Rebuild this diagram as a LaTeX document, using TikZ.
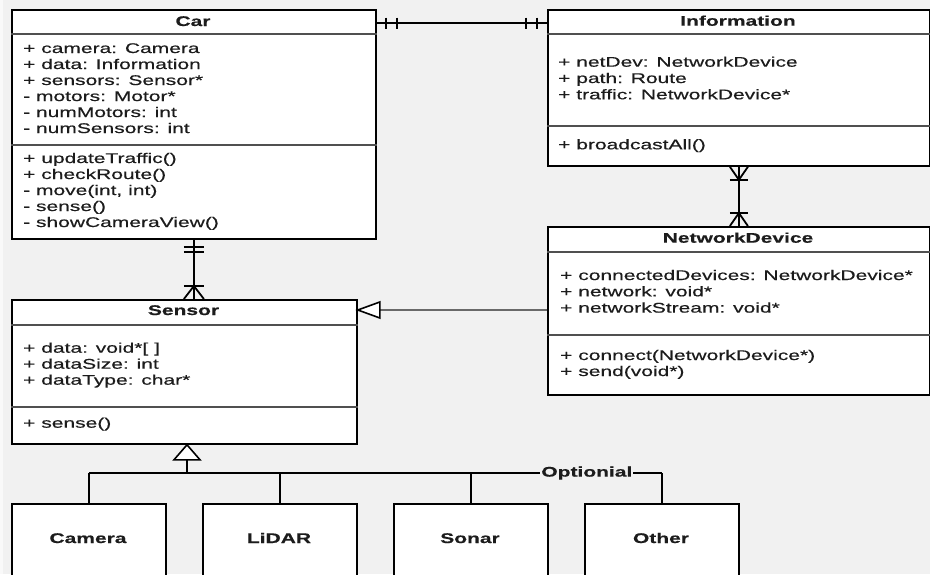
\documentclass[tikz,border=0pt]{standalone}
\usepackage{fontspec}
\setmainfont{Liberation Sans}[FakeStretch=1.5,FakeBold=0.4]
\usetikzlibrary{calc}
\definecolor{bg}{RGB}{241,241,241}
\definecolor{ink}{RGB}{28,28,28}
\definecolor{rule}{RGB}{80,80,80}
\definecolor{genline}{RGB}{105,105,105}

\begin{document}
\begin{tikzpicture}[x=1pt,y=-1pt,
  classbox/.style={draw=black, line width=1.8pt, fill=white, rectangle,
                   inner sep=0pt, anchor=north west},
  member/.style={anchor=base west, inner sep=0pt, text=ink,
                 font=\fontsize{14}{16}\selectfont},
  title/.style={anchor=base, inner sep=0pt, text=ink,
                font=\fontsize{14}{16}\selectfont\bfseries},
  sepline/.style={draw=rule, line width=1.5pt},
  conn/.style={draw=black, line width=1.8pt},
  hollow/.style={draw=black, line width=1.6pt, fill=white, line join=miter}]

\useasboundingbox (0,0) rectangle (930,574);
\clip (0,0) rectangle (930,574);
\fill[bg] (0,0) rectangle (930,574);
\fill[white!60!bg] (0,0) rectangle (3,574);

% ---------- class boxes ----------
\node[classbox, minimum width=364pt, minimum height=229pt] (car)    at (11,9)   {};
\node[classbox, minimum width=382pt, minimum height=156pt] (info)   at (547,9)  {};
\node[classbox, minimum width=382pt, minimum height=168pt] (netdev) at (547,226) {};
\node[classbox, minimum width=345pt, minimum height=144pt] (sensor) at (11,299) {};

% compartment rules
\draw[sepline] ($(car.north west)+(0,25)$)    -- ($(car.north east)+(0,25)$);
\draw[sepline] ($(car.north west)+(0,136)$)   -- ($(car.north east)+(0,136)$);
\draw[sepline] ($(info.north west)+(0,25)$)   -- ($(info.north east)+(0,25)$);
\draw[sepline] ($(info.north west)+(0,117)$)  -- ($(info.north east)+(0,117)$);
\draw[sepline] ($(netdev.north west)+(0,26)$) -- ($(netdev.north east)+(0,26)$);
\draw[sepline] ($(netdev.north west)+(0,109)$)-- ($(netdev.north east)+(0,109)$);
\draw[sepline] ($(sensor.north west)+(0,26)$) -- ($(sensor.north east)+(0,26)$);
\draw[sepline] ($(sensor.north west)+(0,108)$)-- ($(sensor.north east)+(0,108)$);

% titles
\node[title] (car-t)    at (193,26)    {Car};
\node[title] (info-t)   at (738,25.7)  {Information};
\node[title] (netdev-t) at (738,242.7) {NetworkDevice};
\node[title] (sensor-t) at (183.5,315) {Sensor};

% members of Car
\foreach \t [count=\i from 0] in {{+ camera: Camera},{+ data: Information},
    {+ sensors: Sensor*},{- motors: Motor*},{- numMotors: int},{- numSensors: int}}
  \node[member] (car-a\i) at (23,{53+16*\i}) {\t};
\foreach \t [count=\i from 0] in {{+ updateTraffic()},{+ checkRoute()},
    {- move(int, int)},{- sense()},{- showCameraView()}}
  \node[member] (car-m\i) at (23,{163+16*\i}) {\t};

% members of Information
\foreach \t [count=\i from 0] in {{+ netDev: NetworkDevice},{+ path: Route},
    {+ traffic: NetworkDevice*}}
  \node[member] (info-a\i) at (558,{66.7+16.3*\i}) {\t};
\node[member] (info-m0) at (558,149.3) {+ broadcastAll()};

% members of NetworkDevice
\foreach \t [count=\i from 0] in {{+ connectedDevices: NetworkDevice*},
    {+ network: void*},{+ networkStream: void*}}
  \node[member] (netdev-a\i) at (560,{280+16.3*\i}) {\t};
\foreach \t [count=\i from 0] in {{+ connect(NetworkDevice*)},{+ send(void*)}}
  \node[member] (netdev-m\i) at (560,{360+16*\i}) {\t};

% members of Sensor
\foreach \t [count=\i from 0] in {{+ data: void*[ ]},{+ dataSize: int},
    {+ dataType: char*}}
  \node[member] (sensor-a\i) at (23,{352.7+16*\i}) {\t};
\node[member] (sensor-m0) at (23,427.7) {+ sense()};

% ---------- sensor kinds ----------
\node[classbox, minimum width=154pt, minimum height=100pt] (camera) at (11,503)  {};
\node[classbox, minimum width=154pt, minimum height=100pt] (lidar)  at (202,503) {};
\node[classbox, minimum width=154pt, minimum height=100pt] (sonar)  at (393,503) {};
\node[classbox, minimum width=154pt, minimum height=100pt] (other)  at (584,503) {};
\node[title] (camera-t) at (88,543)  {Camera};
\node[title] (lidar-t)  at (279,543) {LiDAR};
\node[title] (sonar-t)  at (470,543) {Sonar};
\node[title] (other-t)  at (661,543) {Other};

% ---------- Car -- Information : one and only one on both ends ----------
\coordinate (ci-a) at ($(car.north east)+(0,14)$);
\coordinate (ci-b) at ($(info.north west)+(0,14)$);
\draw[conn] (ci-a) -- (ci-b);
\foreach \x in {9,20}   \draw[conn] ($(ci-a)+(\x,-5.5)$) -- ++(0,11);
\foreach \x in {-10,-21}\draw[conn] ($(ci-b)+(\x,-5.5)$) -- ++(0,11);

% ---------- Information -- NetworkDevice : one or many on both ends ----------
\coordinate (in-a) at (info.south);
\coordinate (in-b) at (netdev.north);
\draw[conn] (in-a) -- (in-b);
\draw[conn] ($(in-a)+(-9,0)$) -- ($(in-a)+(0,13)$) -- ($(in-a)+(9,0)$);
\draw[conn] ($(in-a)+(-9,13)$) -- ++(18,0);
\draw[conn] ($(in-b)+(-9,0)$) -- ($(in-b)+(0,-13)$) -- ($(in-b)+(9,0)$);
\draw[conn] ($(in-b)+(-9,-13)$) -- ++(18,0);

% ---------- Car -- Sensor : one and only one / one or many ----------
\coordinate (cs-a) at (car.south);
\coordinate (cs-b) at (car.south |- sensor.north);
\draw[conn] (cs-a) -- (cs-b);
\foreach \y in {7,12} \draw[conn] ($(cs-a)+(-10,\y)$) -- ++(20,0);
\draw[conn] ($(cs-b)+(-10,0)$) -- ($(cs-b)+(0,-13)$) -- ($(cs-b)+(10,0)$);
\draw[conn] ($(cs-b)+(-10,-13)$) -- ++(20,0);

% ---------- NetworkDevice generalises to Sensor ----------
\coordinate (ns-a) at ($(netdev.north west)+(0,84)$);
\coordinate (ns-b) at (sensor.east |- ns-a);
\draw[genline, line width=1.5pt] (ns-a) -- ($(ns-b)+(22,0)$);
\draw[hollow] (ns-b) -- ++(22,-8) -- ++(0,16) -- cycle;

% ---------- Sensor kinds generalise to Sensor ----------
\coordinate (st-tip) at ($(sensor.south west)+(176,0)$);
\coordinate (st-base) at ($(st-tip)+(0,15)$);
\coordinate (bus-cam) at ($(camera.north)+(0,-30)$);
\coordinate (bus-lid) at ($(lidar.north)+(0,-30)$);
\coordinate (bus-son) at ($(sonar.north)+(0,-30)$);
\coordinate (bus-oth) at ($(other.north)+(0,-30)$);
\coordinate (bus-mid) at (st-base |- bus-cam);
\draw[conn] (st-base) -- (bus-mid);
\draw[conn] (bus-cam) -- node[pos=0.869, fill=bg, inner sep=1pt, text=ink,
    font=\fontsize{14}{16}\selectfont\bfseries] (opt) {Optionial} (bus-oth);
\draw[conn] (bus-cam) -- (camera.north);
\draw[conn] (bus-lid) -- (lidar.north);
\draw[conn] (bus-son) -- (sonar.north);
\draw[conn] (bus-oth) -- (other.north);
\draw[hollow] (st-tip) -- ++(-13,15) -- ++(26,0) -- cycle;

\end{tikzpicture}
\end{document}
